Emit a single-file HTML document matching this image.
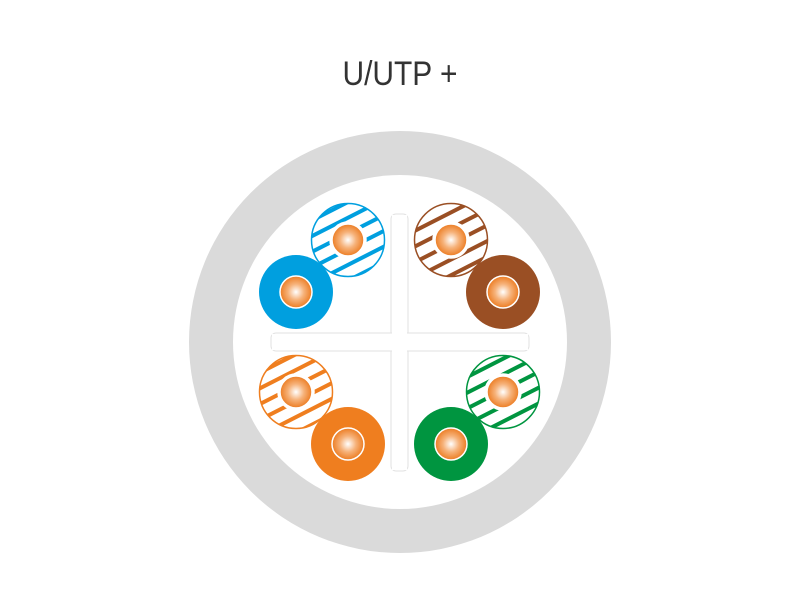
<!DOCTYPE html>
<html><head><meta charset="utf-8"><style>
html,body{margin:0;padding:0;background:#fff;}
svg{display:block;}
</style></head><body>
<svg width="800" height="600" viewBox="0 0 800 600" xmlns="http://www.w3.org/2000/svg">
<defs>
<radialGradient id="core" cx="0.5" cy="0.5" r="0.5">
<stop offset="0" stop-color="#ffffff"/>
<stop offset="0.5" stop-color="#f6b27a"/>
<stop offset="1" stop-color="#ec7c22"/>
</radialGradient>
<pattern id="pb" width="14" height="14" patternUnits="userSpaceOnUse" patternTransform="rotate(-27)"><rect width="14" height="4" fill="#009fdf"/></pattern>
<pattern id="pn" width="14" height="14" patternUnits="userSpaceOnUse" patternTransform="rotate(-27)"><rect width="14" height="4" fill="#9a4f24"/></pattern>
<pattern id="po" width="14" height="14" patternUnits="userSpaceOnUse" patternTransform="rotate(-27)"><rect width="14" height="4" fill="#ef7e1f"/></pattern>
<pattern id="pg" width="14" height="14" patternUnits="userSpaceOnUse" patternTransform="rotate(-27)"><rect width="14" height="4" fill="#009540"/></pattern>
</defs>
<text x="400" y="85" text-anchor="middle" font-family="Liberation Sans, sans-serif" font-size="34" fill="#333" transform="translate(400 0) scale(0.88 1) translate(-400 0)">U/UTP +</text>
<circle cx="400" cy="342" r="211" fill="#dadada"/>
<circle cx="400" cy="342" r="167" fill="#fff"/>
<g fill="#fff" stroke="#e2e2e2" stroke-width="1">
<rect x="391" y="214" width="17" height="257" rx="5"/>
<rect x="271" y="333" width="258" height="18" rx="5"/>
</g>
<rect x="392" y="215" width="15" height="255" fill="#fff"/>
<rect x="272" y="334" width="256" height="16" fill="#fff"/>
<g stroke-width="1.5">
<circle cx="348" cy="240" r="36.5" fill="url(#pb)" stroke="#009fdf"/>
<circle cx="451" cy="240" r="36.5" fill="url(#pn)" stroke="#9a4f24"/>
<circle cx="296" cy="392" r="36.5" fill="url(#po)" stroke="#ef7e1f"/>
<circle cx="503" cy="392" r="36.5" fill="url(#pg)" stroke="#009540"/>
</g>
<circle cx="296" cy="292" r="37" fill="#009fdf"/>
<circle cx="503" cy="292" r="37" fill="#9a4f24"/>
<circle cx="348" cy="444" r="37" fill="#ef7e1f"/>
<circle cx="451" cy="444" r="37" fill="#009540"/>
<g fill="url(#core)" stroke="#fff" stroke-width="1.5">
<circle cx="348" cy="240" r="16"/>
<circle cx="451" cy="240" r="16"/>
<circle cx="296" cy="392" r="16"/>
<circle cx="503" cy="392" r="16"/>
<circle cx="296" cy="292" r="16"/>
<circle cx="503" cy="292" r="16"/>
<circle cx="348" cy="444" r="16"/>
<circle cx="451" cy="444" r="16"/>
</g>
<g fill="none" stroke="#fff" stroke-width="2.5">
<circle cx="348" cy="240" r="17.5"/>
<circle cx="451" cy="240" r="17.5"/>
<circle cx="296" cy="392" r="17.5"/>
<circle cx="503" cy="392" r="17.5"/>
</g>
</svg>
</body></html>
